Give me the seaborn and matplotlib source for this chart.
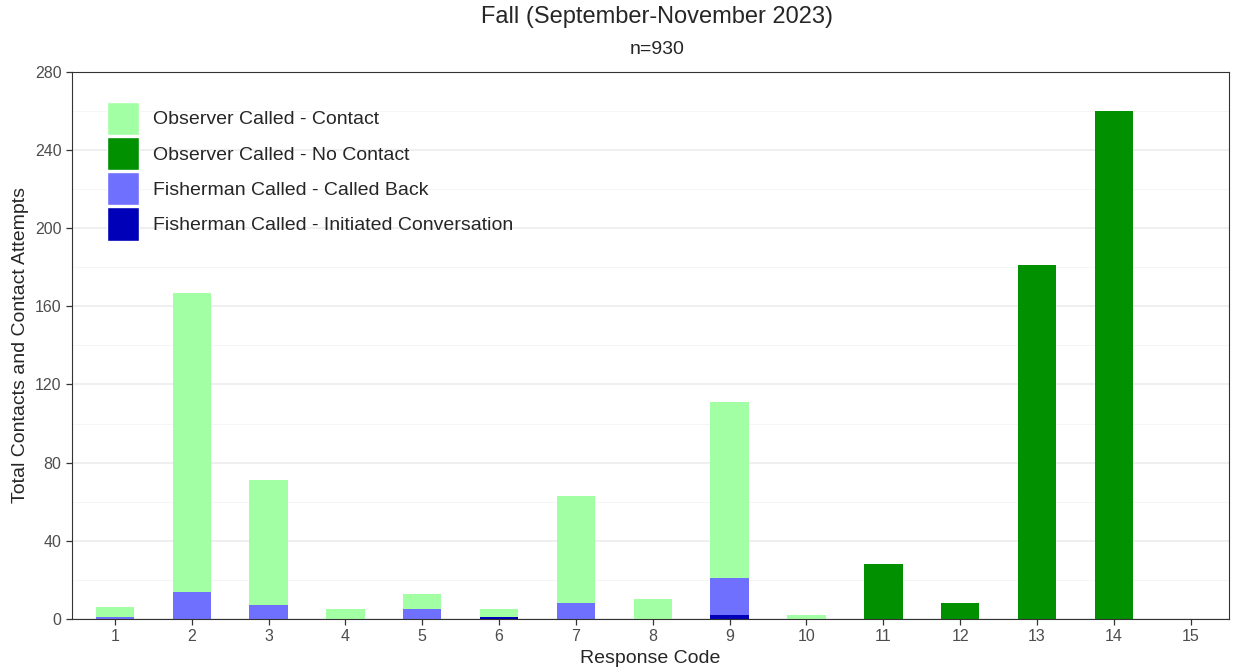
import pandas as pd
import matplotlib.pyplot as plt
import matplotlib.patches as mpatches
import seaborn as sns

# values
codes = list(range(1, 16))
initiated = [0, 0, 0, 0, 0, 1, 0, 0, 2, 0, 0, 0, 0, 0, 0]
called_back = [1, 14, 7, 0, 5, 0, 8, 0, 19, 0, 0, 0, 0, 0, 0]
no_contact = [0, 0, 0, 0, 0, 0, 0, 0, 0, 0, 28, 8, 181, 260, 0]
contact = [5, 153, 64, 5, 8, 4, 55, 10, 90, 2, 0, 0, 0, 0, 0]

labels = ["Observer Called - Contact", "Observer Called - No Contact",
          "Fisherman Called - Called Back", "Fisherman Called - Initiated Conversation"]
colors = ["#A3FFA3", "#009000", "#7070FF", "#0000B8"]

rows = []
for lab, vals in zip(labels, [contact, no_contact, called_back, initiated]):
    for c, v in zip(codes, vals):
        rows.append({"code": c, "type": lab, "count": v})
df = pd.DataFrame(rows)

sns.set_style("white")
plt.rcParams["font.family"] = ["Liberation Sans", "DejaVu Sans"]

fig, ax = plt.subplots(figsize=(12.39, 6.72), dpi=100)
fig.subplots_adjust(left=0.058, right=0.992, top=0.893, bottom=0.079)

# stack from bottom: initiated, called back, no contact, contact
sns.histplot(data=df, x="code", weights="count", hue="type",
             hue_order=labels, palette=dict(zip(labels, colors)),
             multiple="stack", discrete=True, shrink=0.5,
             linewidth=0, alpha=1, legend=False, ax=ax)

ax.set_xlim(0.44, 15.5)
ax.set_ylim(0, 280)
ax.set_xticks(codes)
ax.set_yticks(range(0, 281, 40))
ax.set_yticks(range(20, 281, 40), minor=True)
ax.grid(axis="y", which="major", color="#EBEBEB", linewidth=1.1)
ax.grid(axis="y", which="minor", color="#F4F4F4", linewidth=0.6)
ax.set_axisbelow(True)
for s in ax.spines.values():
    s.set_color("#333333")
    s.set_linewidth(0.8)
ax.tick_params(axis="both", which="major", length=4, width=0.9, color="#333333",
               labelsize=11.5, labelcolor="#4D4D4D", bottom=True, left=True)
ax.tick_params(axis="y", which="minor", length=0)

ax.set_xlabel("Response Code", fontsize=14, labelpad=4)
ax.set_ylabel("Total Contacts and Contact Attempts", fontsize=14)
fig.text(0.53, 0.974, "Fall (September-November 2023)", ha="center", va="center", fontsize=17)
fig.text(0.53, 0.927, "n=930", ha="center", va="center", fontsize=14)

handles = [mpatches.Patch(facecolor=c, edgecolor="white", label=l) for l, c in zip(labels, colors)]
ax.legend(handles=handles, loc="upper left", bbox_to_anchor=(0.024, 0.96), frameon=False,
          fontsize=14, handlelength=1.64, handleheight=2.26, labelspacing=0.1,
          handletextpad=0.7, borderaxespad=0)

fig.savefig("out.png", dpi=100)
